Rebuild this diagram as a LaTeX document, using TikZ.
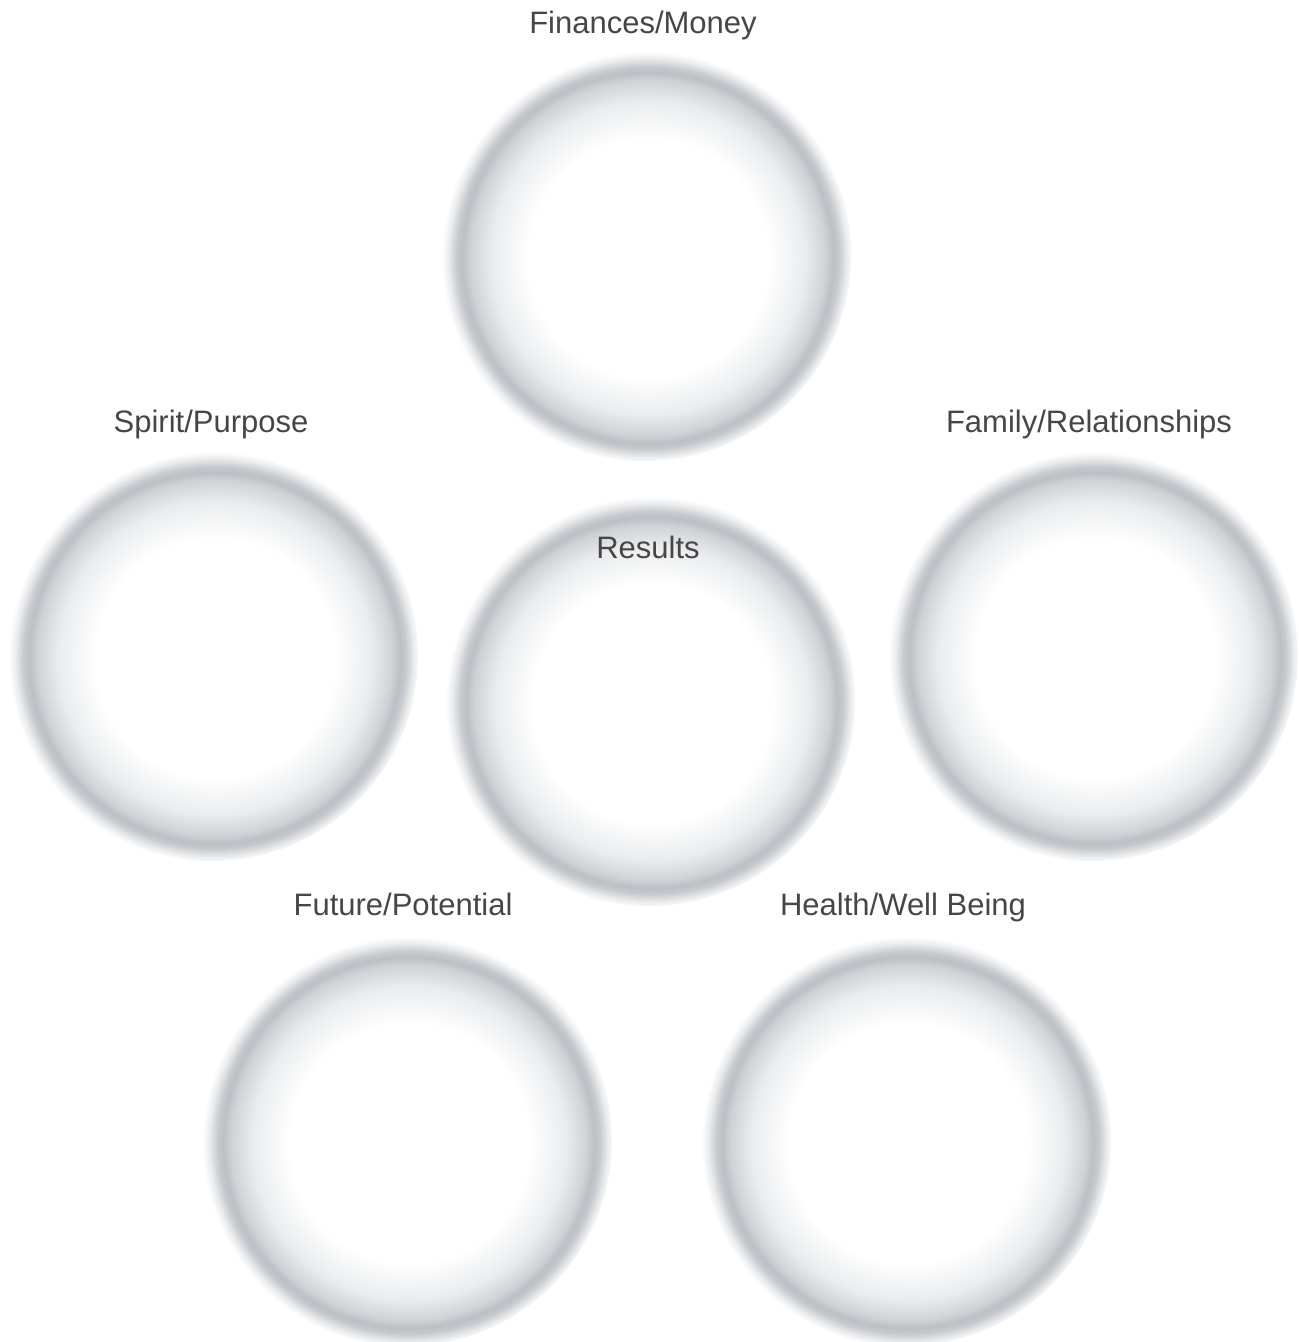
\documentclass[tikz,border=0pt]{standalone}
\usepackage{fontspec}
\setmainfont{Liberation Sans}
\usepackage{tikz}
\usetikzlibrary{positioning}
\definecolor{ringgray}{RGB}{188,192,197}
\definecolor{midgray}{RGB}{234,236,238}
\definecolor{labelgray}{RGB}{70,70,70}
\pgfdeclareradialshading{softsphere}{\pgfpoint{0.6bp}{-0.6bp}}{%
  color(0bp)=(white); color(14.5bp)=(white); color(19bp)=(midgray);
  color(21.5bp)=(ringgray!70!white); color(22.5bp)=(ringgray);
  color(23.2bp)=(ringgray!85!white); color(24.2bp)=(ringgray!30!white);
  color(25bp)=(white); color(50bp)=(white)}
\tikzset{
  sphere/.style={circle,minimum size=412pt,inner sep=0pt,shading=softsphere},
  lbl/.style={anchor=base,inner sep=0pt,text=labelgray,font=\fontsize{31}{36}\selectfont}
}

\begin{document}
\begin{tikzpicture}[x=1pt,y=-1pt]
\useasboundingbox[fill=white] (0,0) rectangle (1299,1342);
\node[sphere] (Fin) at (645,255) {};
\node[sphere] (Spi) at (212,655) {};
\node[sphere] (Res) at (649,700) {};
\node[sphere] (Fam) at (1092,655) {};
\node[sphere] (Fut) at (406,1140) {};
\node[sphere] (Hea) at (905,1140) {};
\node[lbl] (FinL) at (643,33) {Finances/Money};
\node[lbl] (SpiL) at (211,432) {Spirit/Purpose};
\node[lbl] (FamL) at (1089,432) {Family/Relationships};
\node[lbl] (ResL) at (648,558) {Results};
\node[lbl] (FutL) at (403,915) {Future/Potential};
\node[lbl] (HeaL) at (903,915) {Health/Well Being};
\end{tikzpicture}
\end{document}
